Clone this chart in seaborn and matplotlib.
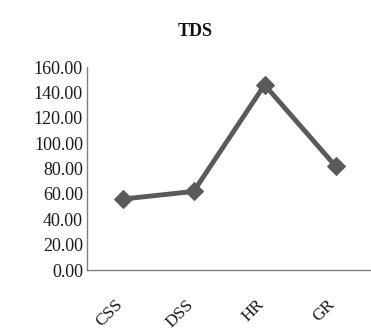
import matplotlib
matplotlib.use("Agg")
import matplotlib.pyplot as plt
import matplotlib.transforms as mtransforms
import seaborn as sns
import pandas as pd

# 데이터
categories = ["CSS", "DSS", "HR", "GR"]
tds_values = [56.0, 62.0, 146.0, 82.0]
y_ticks = [0, 20, 40, 60, 80, 100, 120, 140, 160]


def main():
    sns.set_style("white")
    plt.rcParams["font.family"] = ["Liberation Serif", "DejaVu Serif"]

    df = pd.DataFrame({"group": categories, "tds": tds_values})

    fig = plt.figure(figsize=(3.71, 3.29), dpi=100)
    ax = fig.add_axes([0.235, 0.179, 0.765, 0.617])

    sns.lineplot(data=df, x="group", y="tds", ax=ax, color="#5a5a5a",
                 linewidth=3.5, marker="D", markersize=9.5,
                 markeredgecolor="#5a5a5a", sort=False)

    ax.set_xlim(-0.5, len(categories) - 0.5)
    ax.set_ylim(0, 160)
    ax.set_yticks(y_ticks)
    ax.set_yticklabels([f"{v:.2f}" for v in y_ticks], fontsize=13,
                       color="#1a1a1a")
    ax.set_xticks(range(len(categories)))
    ax.set_xticklabels(categories, rotation=45, fontsize=12.5,
                       ha="right", va="top", color="#1a1a1a")
    ax.tick_params(axis="x", pad=19, length=0)
    ax.tick_params(axis="y", pad=3, length=0)
    ax.set_xlabel("")
    ax.set_ylabel("")

    # x 라벨을 약간 오른쪽으로 이동
    shift = mtransforms.ScaledTranslation(3 / 100, 0, fig.dpi_scale_trans)
    for lbl in ax.get_xticklabels():
        lbl.set_transform(lbl.get_transform() + shift)

    for side in ["top", "right"]:
        ax.spines[side].set_visible(False)
    for side in ["left", "bottom"]:
        ax.spines[side].set_color("#808080")
        ax.spines[side].set_linewidth(1.0)

    fig.text(0.526, 0.905, "TDS", fontsize=13, fontweight="bold",
             ha="center", va="center", color="#111111")

    fig.savefig("out.png", dpi=100)


if __name__ == "__main__":
    main()
